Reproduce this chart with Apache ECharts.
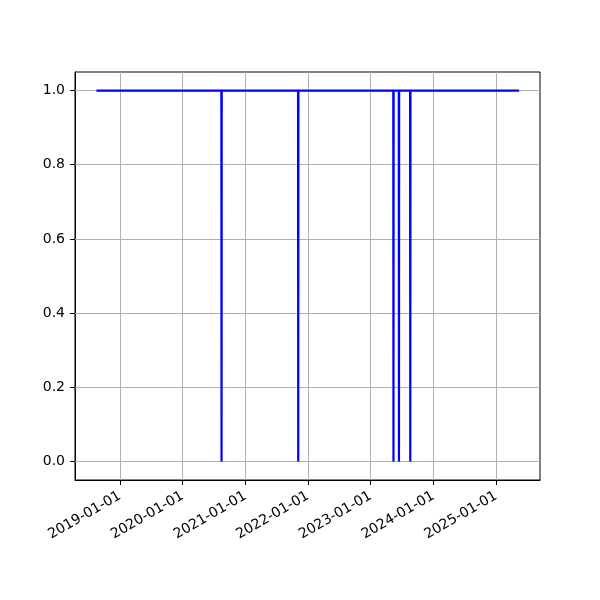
<!DOCTYPE html>
<html><head><meta charset="utf-8">
<script src="https://cdn.jsdelivr.net/npm/echarts@6/dist/echarts.min.js"></script>
<style>html,body{margin:0;padding:0;background:#fff}#c{width:600px;height:600px}</style>
</head><body><div id="c"></div>
<script>
const dates = ['2018-08-17','2020-08-14','2020-08-15','2020-08-16','2021-11-04','2021-11-05','2021-11-06',
  '2023-05-13','2023-05-14','2023-05-15','2023-06-14','2023-06-15','2023-06-16',
  '2023-08-19','2023-08-20','2023-08-21','2025-05-15'];
const values = [1,1,0,1,1,0,1,1,0,1,1,0,1,1,0,1,1];
const xTicks = ['2019-01-01','2020-01-01','2021-01-01','2022-01-01','2023-01-01','2024-01-01','2025-01-01'];
const yTicks = [0,0.2,0.4,0.6,0.8,1.0];
const xMin = '2018-04-14', xMax = '2025-09-14';
const yMin = -0.05, yMax = 1.05;

const ts = s => Date.parse(s + 'T00:00:00Z');
const pad = n => String(n).padStart(2,'0');
const fmtDate = v => { const d = new Date(v); return d.getUTCFullYear()+'-'+pad(d.getUTCMonth()+1)+'-'+pad(d.getUTCDate()); };
const font = 'DejaVu Sans';
const chart = echarts.init(document.getElementById('c'), null, {renderer:'canvas'});
chart.setOption({
  animation: false,
  grid: {left:75, right:60, top:72, bottom:120, show:true, borderColor:'#000', borderWidth:1, backgroundColor:'transparent'},
  xAxis: {
    type:'value', min: ts(xMin), max: ts(xMax), scale:true,
    axisLine:{show:true, onZero:false, lineStyle:{color:'#000', width:1}},
    axisTick:{show:true, length:5, lineStyle:{color:'#000', width:1}, customValues: xTicks.map(ts)},
    axisLabel:{customValues: xTicks.map(ts), rotate:30, formatter: v => fmtDate(v), color:'#000', fontFamily:font, fontSize:14, margin:15},
    splitLine:{show:false}
  },
  yAxis: {
    type:'value', min:yMin, max:yMax,
    axisLine:{show:true, onZero:false, lineStyle:{color:'#000', width:1}},
    axisTick:{show:true, length:5, lineStyle:{color:'#000', width:1}, customValues: yTicks},
    axisLabel:{customValues: yTicks, formatter: v => v.toFixed(1), color:'#000', fontFamily:font, fontSize:14, margin:10},
    splitLine:{show:false}
  },
  series: [{
    type:'line', data: [], z:1, silent:true,
    markLine:{silent:true, symbol:'none', label:{show:false}, animation:false,
      lineStyle:{color:'#b0b0b0', width:1, type:'solid'},
      data: [...xTicks.map(d=>({xAxis: ts(d)})), ...yTicks.map(v=>({yAxis: v}))]}
  },{
    type:'line', data: dates.map((d,i)=>[ts(d), values[i]]),
    showSymbol:false, symbol:'none', lineStyle:{color:'#0000ff', width:2.2}, z:5
  }]
});
</script></body></html>
